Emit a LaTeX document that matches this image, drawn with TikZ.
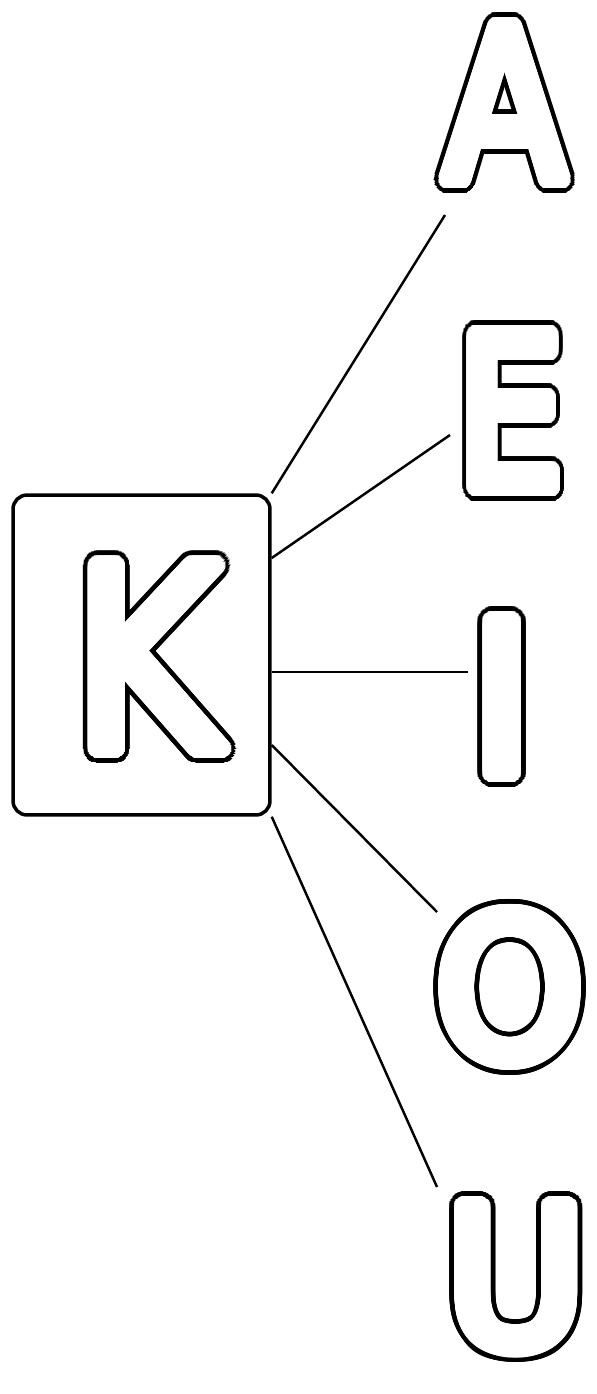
\documentclass[tikz,border=0pt]{standalone}
\usepackage{fontspec}
\setmainfont{DejaVu Sans}
\usepackage[copies]{contour}
\usetikzlibrary{calc}

\contournumber{48}
% hollow letter: black rim round a white body, squeezed by #1
\newcommand{\hollow}[2][1]{%
  \scalebox{#1}[1]{%
    {\contourlength{7.8pt}\rlap{\contour{black}{#2}}}%
    {\contourlength{5pt}\contour{white}{\color{white}#2}}}}

\begin{document}
\begin{tikzpicture}[x=0.02cm, y=-0.02cm,
    letter/.style={inner sep=0pt, font=\fontsize{120}{120}\selectfont},
    link/.style={line width=1.4pt}]

  % Frame
  \useasboundingbox (0,0) rectangle (597,1394);

  % Box with the consonant
  \node[draw, line width=2pt, rounded corners=8pt, inner sep=0pt,
        minimum width=5.14cm, minimum height=6.4cm] (kbox) at (141.5,655) {};
  \node[letter, font=\fontsize{144}{144}\selectfont] (k) at (147,664) {\hollow[0.88]{K}};

  % Vowels
  \node[letter] (a) at (505,110) {\hollow[0.84]{A}};
  \node[letter] (e) at (511,418) {\hollow[0.8]{E}};
  \node[letter] (i) at (502,704) {\hollow{I}};
  \node[letter, font=\fontsize{112}{112}\selectfont] (o) at (510,994) {\hollow[0.95]{O}};
  \node[letter, font=\fontsize{110}{110}\selectfont] (u) at (516,1284) {\hollow[0.98]{U}};

  % Links from the box
  \draw[link] (kbox.north east) -- ($(a.center)+(-60,105)$);
  \draw[link] ($(kbox.east)+(0,-97)$) -- ($(e.center)+(-61,17)$);
  \draw[link] ($(kbox.east)+(0,17)$) -- ($(i.center)+(-34,-32)$);
  \draw[link] ($(kbox.east)+(0,90)$) -- ($(o.center)+(-73,-82)$);
  \draw[link] (kbox.south east) -- ($(u.center)+(-79,-97)$);

\end{tikzpicture}
\end{document}
